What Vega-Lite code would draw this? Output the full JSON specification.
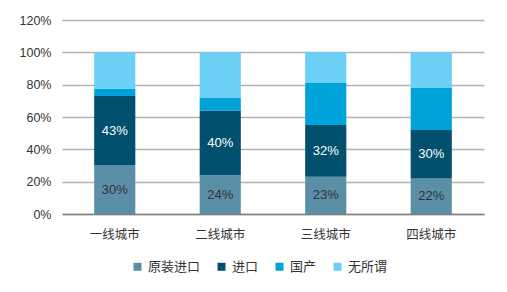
{
  "$schema": "https://vega.github.io/schema/vega-lite/v6.json",
  "width": 422,
  "height": 194,
  "autosize": {"type": "none"},
  "padding": {"left": 62, "top": 20, "right": 23, "bottom": 78},
  "background": "white",
  "config": {
    "view": {"stroke": null},
    "font": "Liberation Sans, Noto Sans CJK SC, sans-serif",
    "axisY": {
      "labelOverlap": false, "domain": false, "ticks": false,
      "gridColor": "#b3b3b3", "gridWidth": 1.5,
      "labelPadding": 11, "labelFontSize": 12.5, "labelColor": "#333333"
    }
  },
  "data": {
    "values": [
      {"city": "一线城市", "type": "原装进口", "ord": 1, "value": 0.30},
      {"city": "一线城市", "type": "进口", "ord": 2, "value": 0.43},
      {"city": "一线城市", "type": "国产", "ord": 3, "value": 0.045},
      {"city": "一线城市", "type": "无所谓", "ord": 4, "value": 0.225},
      {"city": "二线城市", "type": "原装进口", "ord": 1, "value": 0.24},
      {"city": "二线城市", "type": "进口", "ord": 2, "value": 0.40},
      {"city": "二线城市", "type": "国产", "ord": 3, "value": 0.08},
      {"city": "二线城市", "type": "无所谓", "ord": 4, "value": 0.28},
      {"city": "三线城市", "type": "原装进口", "ord": 1, "value": 0.23},
      {"city": "三线城市", "type": "进口", "ord": 2, "value": 0.32},
      {"city": "三线城市", "type": "国产", "ord": 3, "value": 0.26},
      {"city": "三线城市", "type": "无所谓", "ord": 4, "value": 0.19},
      {"city": "四线城市", "type": "原装进口", "ord": 1, "value": 0.22},
      {"city": "四线城市", "type": "进口", "ord": 2, "value": 0.30},
      {"city": "四线城市", "type": "国产", "ord": 3, "value": 0.26},
      {"city": "四线城市", "type": "无所谓", "ord": 4, "value": 0.22}
    ]
  },
  "transform": [
    {"stack": "value", "groupby": ["city"], "sort": [{"field": "ord", "order": "ascending"}], "as": ["v0", "v1"]},
    {"calculate": "(datum.v0 + datum.v1) / 2", "as": "mid"}
  ],
  "encoding": {
    "x": {
      "field": "city", "type": "nominal",
      "sort": ["一线城市", "二线城市", "三线城市", "四线城市"],
      "scale": {"paddingInner": 0.61, "paddingOuter": 0.305},
      "axis": {
        "title": null, "labelAngle": 0, "ticks": false,
        "domainColor": "#7f7f7f", "domainWidth": 1.5,
        "labelPadding": 14, "labelFontSize": 12.5, "labelColor": "#333333",
        "labelFont": "Noto Sans CJK SC"
      }
    }
  },
  "layer": [
    {
      "mark": {"type": "bar"},
      "encoding": {
        "y": {
          "field": "v0", "type": "quantitative",
          "scale": {"domain": [0, 1.2]},
          "axis": {"title": null, "format": ".0%", "values": [0, 0.2, 0.4, 0.6, 0.8, 1.0, 1.2], "labelOverlap": false}
        },
        "y2": {"field": "v1"},
        "color": {
          "field": "type", "type": "nominal",
          "scale": {
            "domain": ["原装进口", "进口", "国产", "无所谓"],
            "range": ["#5b8fa8", "#00506e", "#00a2da", "#6bcff6"]
          },
          "legend": {
            "title": null, "orient": "none", "direction": "horizontal",
            "legendX": 69, "legendY": 240,
            "symbolType": "square", "symbolSize": 64, "symbolStrokeWidth": 0,
            "labelFontSize": 13, "labelColor": "#333333", "labelFont": "Noto Sans CJK SC",
            "columnPadding": 14, "symbolOffset": 0, "labelOffset": 4
          }
        },
        "order": {"field": "ord"}
      }
    },
    {
      "transform": [{"filter": "datum.type === '原装进口'"}],
      "mark": {"type": "text", "fontSize": 13, "color": "#333333", "baseline": "middle"},
      "encoding": {
        "y": {"field": "mid", "type": "quantitative",
          "axis": {"title": null, "format": ".0%", "values": [0, 0.2, 0.4, 0.6, 0.8, 1.0, 1.2], "labelOverlap": false}},
        "text": {"field": "value", "type": "quantitative", "format": ".0%"}
      }
    },
    {
      "transform": [{"filter": "datum.type === '进口'"}],
      "mark": {"type": "text", "fontSize": 13, "color": "#ffffff", "baseline": "middle"},
      "encoding": {
        "y": {"field": "mid", "type": "quantitative",
          "axis": {"title": null, "format": ".0%", "values": [0, 0.2, 0.4, 0.6, 0.8, 1.0, 1.2], "labelOverlap": false}},
        "text": {"field": "value", "type": "quantitative", "format": ".0%"}
      }
    }
  ]
}
